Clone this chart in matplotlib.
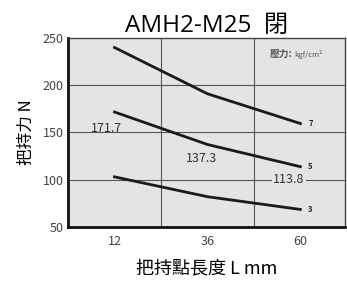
import matplotlib.pyplot as plt

plt.rcParams['font.family'] = ['Noto Sans CJK TC', 'DejaVu Sans']

lengths = [12, 36, 60]
force_7 = [240, 191, 159.5]
force_5 = [171.7, 137.3, 113.8]
force_3 = [103, 82, 68.5]
pressures = ['7', '5', '3']

fig = plt.figure(figsize=(3.47, 2.84), dpi=100)
ax = fig.add_axes([0.196, 0.201, 0.798, 0.665])
ax.set_facecolor('#e4e4e4')

for ys, p in zip([force_7, force_5, force_3], pressures):
    ax.plot(lengths, ys, color='#1a1a1a', linewidth=2)
    ax.text(lengths[-1] + 2, ys[-1], p, fontsize=5.5, fontweight='bold',
            va='center', ha='left', color='#222222')

ax.set_xlim(0, 71.5)
ax.set_ylim(50, 250)
ax.set_xticks(lengths)
ax.set_yticks([50, 100, 150, 200, 250])
for gx in [24, 48]:
    ax.axvline(gx, color='#555555', linewidth=0.8, zorder=0)
for gy in [100, 150, 200]:
    ax.axhline(gy, color='#555555', linewidth=0.8, zorder=0)

ax.text(10, 154, '171.7', fontsize=9, color='#333333', ha='center', va='center')
ax.text(34.6, 122, '137.3', fontsize=9, color='#333333', ha='center', va='center')
ax.text(57, 100, '113.8', fontsize=9, color='#333333', ha='center', va='center',
        bbox=dict(facecolor='#e4e4e4', edgecolor='none', pad=1))
ax.text(58, 233, '壓力:', fontsize=7, fontweight='bold', color='#555555',
        ha='right', va='center')
ax.text(58.5, 233, 'kgf/cm²', fontsize=5.5, color='#555555', ha='left', va='center')

for s in ['left', 'bottom']:
    ax.spines[s].set_linewidth(2)
    ax.spines[s].set_color('#111111')
for s in ['top', 'right']:
    ax.spines[s].set_linewidth(1)
    ax.spines[s].set_color('#444444')

ax.tick_params(length=0, labelsize=9, colors='#444444', pad=3)
ax.tick_params(axis='x', pad=6)
ax.set_title('AMH2-M25  閉', fontsize=17.5, pad=1,
             family=['Open Sans', 'Noto Sans CJK TC'])
ax.set_xlabel('把持點長度 L mm', fontsize=13, labelpad=8)
ax.set_ylabel('把持力 N', fontsize=12, labelpad=6)

fig.savefig('out.png')
